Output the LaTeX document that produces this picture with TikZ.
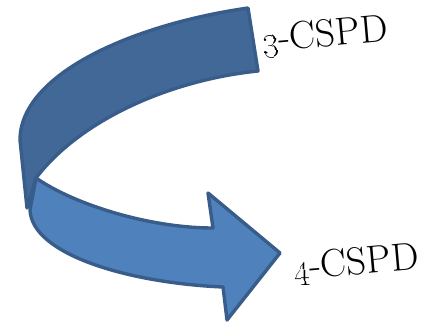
\documentclass[tikz,border=0pt]{standalone}
\usepackage{xcolor}
\usepackage{tikz}
\usetikzlibrary{positioning}
\definecolor{backblue}{HTML}{416897}
\definecolor{frontblue}{HTML}{4F81BD}
\definecolor{rimblue}{HTML}{385D8A}
\tikzset{
  band/.style={draw=rimblue, line width=3.4pt, line join=round},
  bandback/.style={band, fill=backblue},
  bandfront/.style={band, fill=frontblue},
  lbl/.style={font=\fontsize{39}{40}\selectfont, anchor=base west,
              rotate=5, inner sep=0pt},
}

\begin{document}
\begin{tikzpicture}[x=1pt, y=-1pt]
    \useasboundingbox (0,0) rectangle (434,325);
    % back face of the curved arrow
    \draw[bandback] (248,8) .. controls (130,25) and (20,75) .. (20,140)
        -- (27,208) -- (36,178)
        .. controls (80,120) and (170,80) .. (258,71) -- cycle;
    % front face with the head
    \draw[bandfront] (36,178) .. controls (75,205) and (150,228) .. (213,228)
        -- (208,193) -- (280,253) -- (227,320) -- (223,287)
        .. controls (130,283) and (32,255) .. (30,210) -- cycle;
    \node[lbl] (from) at (263,52) {\oldstylenums{3}-CSPD};
    \node[lbl] (to) at (294,280) {\oldstylenums{4}-CSPD};
  \end{tikzpicture}
\end{document}
